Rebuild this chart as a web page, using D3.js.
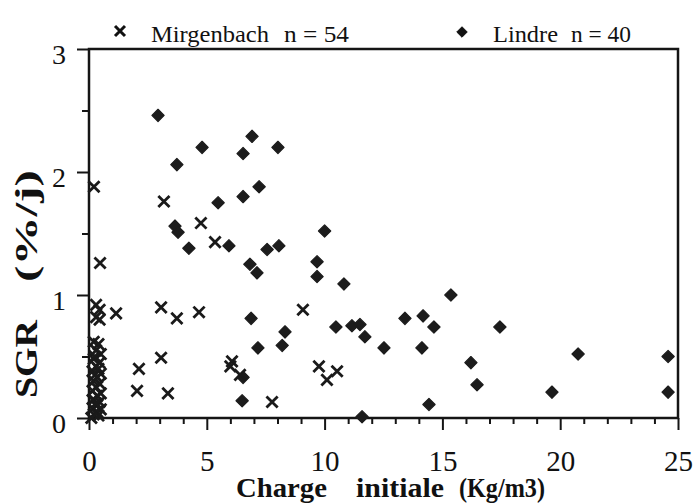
<!DOCTYPE html>
<html>
<head>
<meta charset="utf-8">
<script src="https://cdn.jsdelivr.net/npm/d3@7"></script>
<style>
  html, body { margin: 0; padding: 0; background: #fff; }
  svg { display: block; }
</style>
</head>
<body>
<div id="chart"></div>
<script>
// ---- Data ----
const mirgenbachX = [0.21, 0.47, 3.18, 4.75, 5.35, 0.30, 0.45, 0.30, 0.45, 1.15, 3.06, 3.73, 4.67, 9.08,
  2.12, 3.06, 2.04, 3.35, 6.07, 6.00, 6.41, 7.77, 9.76, 10.10, 10.53,
  0.20, 0.40, 0.30, 0.50, 0.20, 0.45, 0.30, 0.15, 0.50, 0.35, 0.20, 0.45, 0.30, 0.15, 0.50, 0.35,
  0.20, 0.45, 0.30, 0.15, 0.50, 0.35, 0.20, 0.40, 0.10, 0.30, 0.25, 0.40, 0.25];
const mirgenbachY = [1.88, 1.26, 1.76, 1.585, 1.43, 0.92, 0.88, 0.82, 0.80, 0.85, 0.90, 0.81, 0.86, 0.88,
  0.40, 0.49, 0.22, 0.20, 0.46, 0.42, 0.35, 0.13, 0.42, 0.31, 0.38,
  0.62, 0.60, 0.55, 0.52, 0.48, 0.45, 0.42, 0.38, 0.36, 0.33, 0.30, 0.28, 0.25, 0.22, 0.20, 0.18,
  0.15, 0.13, 0.10, 0.08, 0.07, 0.05, 0.03, 0.02, 0.00, 0.12, 0.35, 0.40, 0.50];
const lindreX = [2.93, 3.73, 4.80, 6.92, 6.54, 8.02, 7.22, 6.54, 5.48, 3.65, 3.78, 4.24, 5.94, 7.56, 8.06,
  10.00, 6.83, 7.13, 9.68, 9.68, 10.82, 15.36, 6.88, 8.32, 8.20, 7.17, 10.48, 11.16, 11.50, 11.71,
  12.52, 13.41, 14.18, 14.64, 14.13, 17.44, 16.21, 16.47, 14.43, 20.76, 19.65, 24.58, 24.58, 6.54, 6.50, 11.59];
const lindreY = [2.46, 2.06, 2.20, 2.29, 2.15, 2.20, 1.88, 1.80, 1.75, 1.56, 1.51, 1.38, 1.40, 1.37, 1.40,
  1.52, 1.25, 1.18, 1.27, 1.15, 1.09, 1.00, 0.81, 0.70, 0.59, 0.57, 0.74, 0.75, 0.76, 0.66,
  0.57, 0.81, 0.83, 0.74, 0.57, 0.74, 0.45, 0.27, 0.11, 0.52, 0.21, 0.50, 0.21, 0.33, 0.14, 0.01];
const xMajorTicks = [0, 5, 10, 15, 20, 25];
const yMajorTicks = [0, 1, 2, 3];
const legendLabels = ["Mirgenbach", "n = 54", "Lindre", "n = 40"];
const xTitleWords = ["Charge", "initiale", "(Kg/m3)"];
const yTitleWords = ["SGR", "(%/j)"];

// ---- Layout ----
const W = 696, H = 503;
const margin = { left: 89, right: 18, top: 49, bottom: 85 };
const SERIF = "'Liberation Serif', 'Times New Roman', serif";
const svg = d3.select("#chart").append("svg").attr("width", W).attr("height", H)
  .attr("font-family", SERIF);

const x = d3.scaleLinear().domain([0, 25]).range([margin.left, W - margin.right]);
const y = d3.scaleLinear().domain([0, 3]).range([H - margin.bottom, margin.top]);

const crossType = { draw(ctx, size) { const r = Math.sqrt(size) / 2; ctx.moveTo(-r, -r); ctx.lineTo(r, r); ctx.moveTo(-r, r); ctx.lineTo(r, -r); } };
const diamondType = { draw(ctx, size) { const r = Math.sqrt(size) / 2; ctx.moveTo(0, -r); ctx.lineTo(r, 0); ctx.lineTo(0, r); ctx.lineTo(-r, 0); ctx.closePath(); } };

// frame
svg.append("rect")
  .attr("x", x(0)).attr("y", y(3))
  .attr("width", x(25) - x(0)).attr("height", y(0) - y(3))
  .attr("fill", "none").attr("stroke", "#151515").attr("stroke-width", 2.5);

// minor ticks
const xMinor = d3.range(0, 26, 1).filter(v => v % 5 !== 0);
const yMinor = [0.5, 1.5, 2.5];
svg.append("g").attr("transform", `translate(0,${y(0)})`)
  .call(d3.axisBottom(x).tickValues(xMinor).tickSize(6).tickFormat(""))
  .call(g => g.select(".domain").remove())
  .selectAll("line").attr("stroke", "#151515").attr("stroke-width", 2);
svg.append("g").attr("transform", `translate(${x(0)},0)`)
  .call(d3.axisLeft(y).tickValues(yMinor).tickSize(7).tickFormat(""))
  .call(g => g.select(".domain").remove())
  .selectAll("line").attr("stroke", "#151515").attr("stroke-width", 2);

// major ticks + labels
const gx = svg.append("g").attr("transform", `translate(0,${y(0)})`)
  .call(d3.axisBottom(x).tickValues(xMajorTicks).tickSize(12).tickPadding(20).tickFormat(d3.format("d")));
gx.attr("font-family", SERIF);
gx.select(".domain").remove();
gx.selectAll("line").attr("stroke", "#151515").attr("stroke-width", 2);
gx.selectAll("text").attr("font-size", 29).attr("fill", "#111");

const gy = svg.append("g").attr("transform", `translate(${x(0)},0)`)
  .call(d3.axisLeft(y).tickValues(yMajorTicks).tickSize(12).tickPadding(11).tickFormat(d3.format("d")));
gy.attr("font-family", SERIF);
gy.select(".domain").remove();
gy.selectAll("line").attr("stroke", "#151515").attr("stroke-width", 2);
gy.selectAll("text").attr("font-size", 28).attr("fill", "#111").attr("dy", "0.52em");

// points
const mirg = d3.zip(mirgenbachX, mirgenbachY);
const lind = d3.zip(lindreX, lindreY);
svg.append("g").selectAll("path").data(lind).join("path")
  .attr("transform", d => `translate(${x(d[0])},${y(d[1])})`)
  .attr("d", d3.symbol().type(diamondType).size(150))
  .attr("fill", "#1c1c1c").attr("stroke", "#1c1c1c").attr("stroke-width", 1.2).attr("stroke-linejoin", "round");
svg.append("g").selectAll("path").data(mirg).join("path")
  .attr("transform", d => `translate(${x(d[0])},${y(d[1])})`)
  .attr("d", d3.symbol().type(crossType).size(125))
  .attr("fill", "none").attr("stroke", "#1a1a1a").attr("stroke-width", 2.8);

// axis titles (words placed separately, as in the reference's wide spacing)
const xTitlePos = [[236, 91], [356, 88], [459, 86]];
svg.append("g").selectAll("text").data(xTitleWords).join("text")
  .attr("x", (d, i) => xTitlePos[i][0]).attr("y", 497)
  .attr("fill", "#111")
  .attr("font-weight", "bold").attr("font-size", 27)
  .attr("textLength", (d, i) => xTitlePos[i][1]).attr("lengthAdjust", "spacingAndGlyphs")
  .text(d => d);
const yTitlePos = [[398, 78], [282, 112]];
svg.append("g").selectAll("text").data(yTitleWords).join("text")
  .attr("transform", (d, i) => `translate(37,${yTitlePos[i][0]}) rotate(-90)`)
  .attr("fill", "#111")
  .attr("font-weight", "bold").attr("font-size", 32)
  .attr("textLength", (d, i) => yTitlePos[i][1]).attr("lengthAdjust", "spacingAndGlyphs")
  .text(d => d);

// legend
const lg = svg.append("g").attr("fill", "#111");
lg.append("path").attr("transform", "translate(120,31)")
  .attr("d", d3.symbol().type(crossType).size(100))
  .attr("fill", "none").attr("stroke", "#111").attr("stroke-width", 3);
lg.append("text").attr("x", 151).attr("y", 42).attr("font-size", 24)
  .attr("textLength", 118).attr("lengthAdjust", "spacingAndGlyphs").text(legendLabels[0]);
lg.append("text").attr("x", 284).attr("y", 42).attr("font-size", 24)
  .attr("textLength", 65).attr("lengthAdjust", "spacingAndGlyphs").text(legendLabels[1]);
lg.append("path").attr("transform", "translate(462,32)")
  .attr("d", d3.symbol().type(diamondType).size(110))
  .attr("fill", "#111").attr("stroke", "#111").attr("stroke-width", 1).attr("stroke-linejoin", "round");
lg.append("text").attr("x", 493).attr("y", 42).attr("font-size", 24)
  .attr("textLength", 65).attr("lengthAdjust", "spacingAndGlyphs").text(legendLabels[2]);
lg.append("text").attr("x", 571).attr("y", 42).attr("font-size", 24)
  .attr("textLength", 60).attr("lengthAdjust", "spacingAndGlyphs").text(legendLabels[3]);
</script>
</body>
</html>
